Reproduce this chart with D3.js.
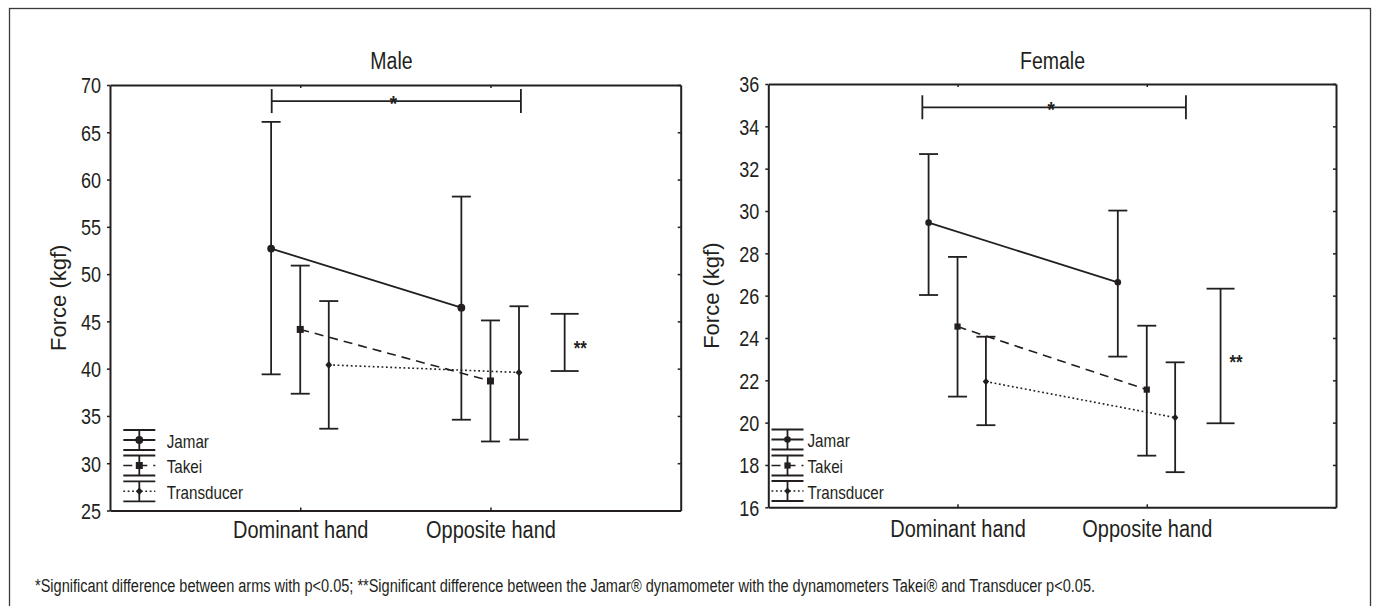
<!DOCTYPE html>
<html><head><meta charset="utf-8">
<script src="https://cdn.jsdelivr.net/npm/d3@7"></script>
<style>
html,body{margin:0;padding:0;background:#fff;}
svg{display:block;}
</style></head>
<body>
<svg id="chart" width="1378" height="606"></svg>
<script>
// ---------------- data ----------------
const categories = ["Dominant hand", "Opposite hand"];
const seriesNames = ["Jamar", "Takei", "Transducer"];

// Male (kgf)
const maleYTicks = [25, 30, 35, 40, 45, 50, 55, 60, 65, 70];
const maleJamarMean  = [52.7, 46.45];
const maleJamarUpper = [66.1, 58.2];
const maleJamarLower = [39.4, 34.6];
const maleTakeiMean  = [44.15, 38.7];
const maleTakeiUpper = [50.9, 45.1];
const maleTakeiLower = [37.35, 32.3];
const maleTransMean  = [40.4, 39.6];
const maleTransUpper = [47.15, 46.6];
const maleTransLower = [33.65, 32.5];
const maleStarBar    = [39.75, 45.8];   // ** range
const maleBracketY   = 68.3;            // * bracket level

// Female (kgf)
const femaleYTicks = [16, 18, 20, 22, 24, 26, 28, 30, 32, 34, 36];
const femaleJamarMean  = [29.45, 26.63];
const femaleJamarUpper = [32.69, 30.02];
const femaleJamarLower = [26.03, 23.12];
const femaleTakeiMean  = [24.54, 21.56];
const femaleTakeiUpper = [27.83, 24.58];
const femaleTakeiLower = [21.23, 18.44];
const femaleTransMean  = [21.94, 20.24];
const femaleTransUpper = [24.06, 22.85];
const femaleTransLower = [19.88, 17.66];
const femaleStarBar    = [19.97, 26.33];
const femaleBracketY   = 34.9;

const footnote = "*Significant difference between arms with p<0.05; **Significant difference between the Jamar\u00AE dynamometer with the dynamometers Takei\u00AE and Transducer p<0.05.";

// ---------------- drawing ----------------
const INK = "#231f20";
const FONT = '"Liberation Sans", Arial, sans-serif';
const svg = d3.select("#chart");

const cnv = document.createElement("canvas").getContext("2d");
function measure(size, s){ cnv.font = size + 'px "Liberation Sans"'; return cnv.measureText(s).width; }

// condensed text: regular sans squeezed horizontally
function narrow(sel, size, ratio){
  sel.attr("font-size", size).attr("font-family", FONT);
  sel.each(function(){
    const t = this.textContent;
    d3.select(this).attr("textLength", measure(size, t) * ratio).attr("lengthAdjust", "spacingAndGlyphs");
  });
  return sel;
}

// outer frame
svg.append("rect").attr("x", 9.5).attr("y", 8.5).attr("width", 1361).attr("height", 640)
  .attr("fill", "none").attr("stroke", "#3a3a3a").attr("stroke-width", 1.3);

const styles = [
  {dash: null,      width: 1.8, marker: "circle"},
  {dash: "9,6",     width: 1.6, marker: "square"},
  {dash: "1.8,2.6", width: 1.6, marker: "diamond"}
];
const seriesOffset = [-0.153, 0, 0.15];

function markerPath(type, s){
  if (type === "circle") return d3.symbol(d3.symbolCircle, Math.PI * s.r * s.r)();
  if (type === "square") return d3.symbol(d3.symbolSquare, s.sq * s.sq)();
  const a = s.dm;
  return `M0,${-a}L${a*0.9},0L0,${a}L${-a*0.9},0Z`;
}

function drawPanel(p){
  const g = svg.append("g");
  const x = d3.scaleLinear().domain([0, 3]).range([p.x0, p.x1]);
  const y = d3.scaleLinear().domain([p.yTicks[0], p.yTicks[p.yTicks.length-1]]).range([p.y1, p.y0]);

  // axes
  const left = g.append("g").attr("transform", `translate(${p.x0},0)`)
    .call(d3.axisLeft(y).tickValues(p.yTicks).tickSize(3).tickSizeOuter(0).tickPadding(6));
  const right = g.append("g").attr("transform", `translate(${p.x1},0)`)
    .call(d3.axisRight(y).tickValues(p.yTicks).tickSize(-3).tickSizeOuter(0).tickFormat(""));
  const top = g.append("g").attr("transform", `translate(0,${p.y0})`)
    .call(d3.axisTop(x).tickValues([1, 2]).tickSize(-3).tickSizeOuter(0).tickFormat(""));
  const bottom = g.append("g").attr("transform", `translate(0,${p.y1})`)
    .call(d3.axisBottom(x).tickValues([1, 2]).tickSize(-3).tickSizeOuter(0).tickFormat((d) => categories[d-1]));
  [left, right, top, bottom].forEach(a => {
    a.select(".domain").attr("stroke", INK).attr("stroke-width", 2);
    a.selectAll(".tick line").attr("stroke", INK).attr("stroke-width", 1.5);
    a.attr("font-family", null).attr("font-size", null);
  });
  narrow(left.selectAll(".tick text").attr("fill", INK).attr("dy", "0.35em"), 22.5, 0.8);
  narrow(bottom.selectAll(".tick text").attr("fill", INK).attr("y", p.catBaseline - p.y1).attr("dy", 0), 23.5, 0.85);

  // title
  narrow(g.append("text").attr("x", p.titleX).attr("y", 69).attr("text-anchor", "middle")
    .attr("fill", INK).text(p.title), 23.5, 0.83);

  // y label
  g.append("text").attr("transform", `translate(${p.ylabX},${(p.y0+p.y1)/2}) rotate(-90)`)
    .attr("text-anchor", "middle").attr("font-family", FONT)
    .attr("font-size", 22).attr("fill", INK).text("Force (kgf)");

  // series
  p.series.forEach((s, i) => {
    const pts = categories.map((c, k) => ({
      x: x(k + 1 + seriesOffset[i]), m: y(s.mean[k]), hi: y(s.upper[k]), lo: y(s.lower[k])
    }));
    g.append("path").attr("d", d3.line().x(d => d.x).y(d => d.m)(pts))
      .attr("fill", "none").attr("stroke", INK).attr("stroke-width", styles[i].width)
      .attr("stroke-dasharray", styles[i].dash);
    pts.forEach(d => {
      g.append("line").attr("x1", d.x).attr("x2", d.x).attr("y1", d.hi).attr("y2", d.lo)
        .attr("stroke", INK).attr("stroke-width", 1.8);
      [d.hi, d.lo].forEach(yy => g.append("line").attr("x1", d.x - 9.5).attr("x2", d.x + 9.5)
        .attr("y1", yy).attr("y2", yy).attr("stroke", INK).attr("stroke-width", 1.8));
      g.append("path").attr("d", markerPath(styles[i].marker, p.mk))
        .attr("transform", `translate(${d.x},${d.m})`).attr("fill", INK);
    });
  });

  // ** bar
  const sx = x(2.39);
  const sb = p.starBar.map(y);
  g.append("line").attr("x1", sx).attr("x2", sx).attr("y1", sb[0]).attr("y2", sb[1])
    .attr("stroke", INK).attr("stroke-width", 1.8);
  sb.forEach(yy => g.append("line").attr("x1", sx - 14).attr("x2", sx + 14).attr("y1", yy).attr("y2", yy)
    .attr("stroke", INK).attr("stroke-width", 1.8));
  narrow(g.append("text").attr("x", sx + 9).attr("y", (sb[0] + sb[1]) / 2 + 13)
    .attr("fill", INK).attr("font-weight", "bold").text("**"), 21, 0.8);

  // * bracket
  const bx = p.bracketX.map(x), by = y(p.bracketY);
  g.append("line").attr("x1", bx[0]).attr("x2", bx[1]).attr("y1", by).attr("y2", by)
    .attr("stroke", INK).attr("stroke-width", 1.8);
  bx.forEach(xx => g.append("line").attr("x1", xx).attr("x2", xx).attr("y1", by - 12).attr("y2", by + 12)
    .attr("stroke", INK).attr("stroke-width", 1.8));
  narrow(g.append("text").attr("x", (bx[0] + bx[1]) / 2 - 3).attr("y", by + 10).attr("text-anchor", "middle")
    .attr("fill", INK).attr("font-weight", "bold").text("*"), 22, 0.85);

  // legend
  seriesNames.forEach((name, i) => {
    const cy = p.legY[i], cx = p.legX;
    g.append("line").attr("x1", cx).attr("x2", cx).attr("y1", cy - 10).attr("y2", cy + 10)
      .attr("stroke", INK).attr("stroke-width", 1.8);
    [cy - 10, cy + 10].forEach(yy => g.append("line").attr("x1", cx - 16).attr("x2", cx + 16)
      .attr("y1", yy).attr("y2", yy).attr("stroke", INK).attr("stroke-width", 1.8));
    g.append("line").attr("x1", cx - 16).attr("x2", cx + 16).attr("y1", cy).attr("y2", cy)
      .attr("stroke", INK).attr("stroke-width", styles[i].width).attr("stroke-dasharray", styles[i].dash);
    g.append("path").attr("d", markerPath(styles[i].marker, p.mk))
      .attr("transform", `translate(${cx},${cy})`).attr("fill", INK);
    narrow(g.append("text").attr("x", p.legTextX).attr("y", cy + 7.5).attr("fill", INK).text(name), 19, 0.8);
  });
}

drawPanel({
  title: "Male", titleX: 391.5, x0: 110, x1: 680.7, y0: 85, y1: 510.5, catBaseline: 537.5, ylabX: 65.5,
  yTicks: maleYTicks,
  series: [
    {mean: maleJamarMean, upper: maleJamarUpper, lower: maleJamarLower},
    {mean: maleTakeiMean, upper: maleTakeiUpper, lower: maleTakeiLower},
    {mean: maleTransMean, upper: maleTransUpper, lower: maleTransLower}
  ],
  starBar: maleStarBar, bracketY: maleBracketY, bracketX: [0.85, 2.16],
  legX: 139.3, legY: [440, 465.5, 491.3], legTextX: 166.7,
  mk: {r: 3.9, sq: 7, dm: 3.8}
});

drawPanel({
  title: "Female", titleX: 1052.5, x0: 768.3, x1: 1336, y0: 84, y1: 507.3, catBaseline: 537.5, ylabX: 718.7,
  yTicks: femaleYTicks,
  series: [
    {mean: femaleJamarMean, upper: femaleJamarUpper, lower: femaleJamarLower},
    {mean: femaleTakeiMean, upper: femaleTakeiUpper, lower: femaleTakeiLower},
    {mean: femaleTransMean, upper: femaleTransUpper, lower: femaleTransLower}
  ],
  starBar: femaleStarBar, bracketY: femaleBracketY, bracketX: [0.814, 2.207],
  legX: 787.5, legY: [439.5, 465.5, 491], legTextX: 807.5,
  mk: {r: 3.3, sq: 6.2, dm: 3.6}
});

// footnote (single text, squeezed to the reference width)
svg.append("text").attr("x", 35).attr("y", 591.5).attr("fill", INK)
  .attr("font-family", FONT).attr("font-size", 18)
  .attr("textLength", 1060).attr("lengthAdjust", "spacingAndGlyphs").text(footnote);
</script>
</body></html>
